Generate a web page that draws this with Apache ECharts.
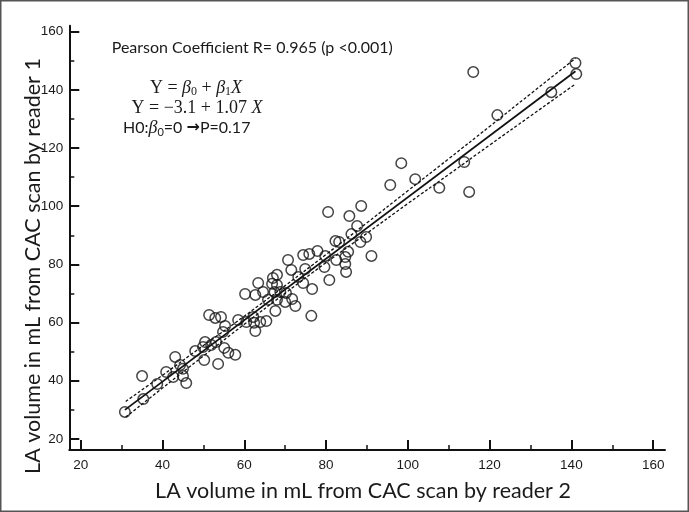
<!DOCTYPE html>
<html>
<head>
<meta charset="utf-8">
<script src="https://cdn.jsdelivr.net/npm/echarts@6/dist/echarts.min.js"></script>
<style>html,body{margin:0;padding:0;background:#fff}#c{width:689px;height:512px}</style>
</head>
<body>
<div id="c"></div>
<script>
// ---- data ----
const xMajorTicks = [20, 40, 60, 80, 100, 120, 140, 160];
const xMinorTicks = [30, 50, 70, 90, 110, 130, 150];
const yMajorTicks = [20, 40, 60, 80, 100, 120, 140, 160];
const yMinorTicks = [30, 50, 70, 90, 110, 130, 150];

const reader2 = [30.8, 35.3, 35.0, 38.7, 40.9, 42.6, 43.1, 44.3, 45.0, 45.0, 45.8, 48.0, 49.9, 50.2, 51.9, 53.1, 53.6, 55.1, 56.1, 57.8,
  51.4, 52.9, 54.3, 55.3, 54.8, 58.5, 60.5, 62.2, 62.4, 63.9, 65.4, 62.7, 60.2, 62.7, 63.4, 64.6, 65.8, 66.8, 68.0, 67.0, 68.0, 68.8, 68.0, 70.2, 70.0, 71.7, 72.5, 67.6, 76.4,
  70.7, 71.5, 73.2, 74.4, 76.6, 74.9, 74.4, 75.9, 77.9, 79.8, 79.6, 80.8, 82.3, 83.2, 82.5, 84.7, 85.4, 84.7, 84.9, 86.2, 88.4, 89.8, 87.6, 91.1,
  80.5, 85.7, 88.6, 95.7, 98.4, 101.8, 107.7, 113.8, 115.0, 116.0, 121.9, 135.1, 141.0, 141.2, 67.4, 50.4];
const reader1 = [29.3, 33.7, 41.6, 38.9, 43.0, 41.3, 48.2, 45.4, 44.1, 41.6, 39.2, 50.2, 51.6, 47.1, 52.3, 53.3, 45.8, 51.3, 49.6, 48.9,
  62.6, 61.6, 61.9, 58.8, 56.8, 60.9, 60.2, 61.9, 59.9, 60.2, 60.5, 57.1, 69.8, 69.5, 73.6, 70.5, 67.8, 73.3, 76.4, 75.3, 72.9, 70.5, 67.8, 70.2, 67.1, 68.1, 65.7, 64.0, 62.3,
  81.5, 78.1, 75.7, 73.6, 71.5, 78.4, 83.2, 83.6, 84.6, 82.9, 79.1, 74.6, 88.0, 87.7, 81.5, 82.5, 84.3, 80.1, 77.4, 90.4, 87.7, 89.4, 93.2, 82.9,
  98.0, 96.6, 100.1, 107.3, 114.8, 109.3, 106.3, 115.2, 104.9, 146.1, 131.3, 139.2, 149.2, 145.4, 70.5, 53.3];

const fitX = [30.8, 141.0];
const fitY = [30.0, 146.4];
const bandX = [31, 40, 50, 60, 70, 80, 90, 100, 110, 120, 130, 141];
const bandUpper = [32.9, 41.9, 52.1, 62.2, 72.7, 83.4, 94.3, 105.3, 116.3, 127.4, 138.6, 150.8];
const bandLower = [27.5, 37.5, 48.5, 59.4, 70.1, 80.6, 90.7, 100.9, 110.9, 121.0, 131.0, 142.0];

const xTitle = 'LA volume in mL from CAC scan by reader 2';
const yTitle = 'LA volume in mL from CAC scan by reader 1';

// ---- chart ----
const zip = (a, b) => a.map((v, i) => [v, b[i]]);
const X_MIN = 17.2, X_MAX = 162.9, Y_MIN = 16.2, Y_MAX = 162;
const AX = '#111';
const tickFont = { fontFamily: 'Liberation Sans, Arial, sans-serif', fontSize: 13.5, color: '#1a1a1a' };

function axisPair(isX) {
  const major = isX ? xMajorTicks : yMajorTicks;
  const minor = isX ? xMinorTicks : yMinorTicks;
  const base = { type: 'value', min: isX ? X_MIN : Y_MIN, max: isX ? X_MAX : Y_MAX, splitLine: { show: false } };
  return [
    Object.assign({}, base, {
      position: isX ? 'bottom' : 'left',
      axisLine: { show: true, lineStyle: { color: AX, width: 2 } },
      axisTick: { show: true, inside: true, length: 10, customValues: major, lineStyle: { color: AX, width: 2 } },
      axisLabel: Object.assign({ show: true, customValues: major, margin: isX ? 8 : 6 }, tickFont)
    }),
    Object.assign({}, base, {
      position: isX ? 'bottom' : 'left',
      axisLine: { show: false },
      axisTick: { show: true, inside: true, length: 5, customValues: minor, lineStyle: { color: AX, width: 1.5 } },
      axisLabel: { show: false }
    })
  ];
}

const chart = echarts.init(document.getElementById('c'), null, { renderer: 'canvas' });
const lato = 'Lato, "Open Sans", sans-serif';
const serif = '"Liberation Serif", "DejaVu Serif", serif';

chart.setOption({
  animation: false,
  backgroundColor: '#fff',
  grid: { left: 69.3, right: 24, top: 25.8, bottom: 62, containLabel: false },
  xAxis: axisPair(true),
  yAxis: axisPair(false),
  series: [
    { type: 'line', data: zip(fitX, fitY), symbol: 'none', lineStyle: { color: '#111', width: 1.8 }, z: 3 },
    { type: 'line', data: zip(bandX, bandUpper), symbol: 'none', smooth: true, lineStyle: { color: '#111', width: 1.3, type: [3, 2] }, z: 3 },
    { type: 'line', data: zip(bandX, bandLower), symbol: 'none', smooth: true, lineStyle: { color: '#111', width: 1.3, type: [3, 2] }, z: 3 },
    { type: 'scatter', data: zip(reader2, reader1), symbol: 'circle', symbolSize: 10.5,
      itemStyle: { color: 'rgba(0,0,0,0)', borderColor: '#151515', borderWidth: 1.5 }, z: 4 }
  ],
  graphic: [
    { type: 'rect', shape: { x: 0.75, y: 0.75, width: 687.5, height: 510.5 }, style: { fill: 'none', stroke: '#555', lineWidth: 1.5 }, silent: true },
    { type: 'text', x: 111.7, y: 48, style: { text: 'Pearson Coefficient R= 0.965 (p <0.001)', font: '16px ' + lato, fill: '#1a1a1a', textAlign: 'left', textVerticalAlign: 'middle' } },
    { type: 'text', x: 196, y: 88, style: {
        text: '{r|Y = }{i|β}{s|0}{r| + }{i|β}{s|1}{i|X}', textAlign: 'center', textVerticalAlign: 'middle',
        rich: {
          r: { fontFamily: serif, fontSize: 18, fill: '#1a1a1a', lineHeight: 20 },
          i: { fontFamily: serif, fontSize: 18, fontStyle: 'italic', fill: '#1a1a1a', lineHeight: 20 },
          s: { fontFamily: serif, fontSize: 12, fill: '#1a1a1a', lineHeight: 20, verticalAlign: 'bottom' }
        } } },
    { type: 'text', x: 197, y: 108, style: {
        text: '{r|Y = −3.1 + 1.07 }{i|X}', textAlign: 'center', textVerticalAlign: 'middle',
        rich: {
          r: { fontFamily: serif, fontSize: 18, fill: '#1a1a1a', lineHeight: 20 },
          i: { fontFamily: serif, fontSize: 18, fontStyle: 'italic', fill: '#1a1a1a', lineHeight: 20 }
        } } },
    { type: 'text', x: 123, y: 128, style: {
        text: '{c|H0:}{i|β}{s|0}{c|=0 }{a|→}{c|P=0.17}', textAlign: 'left', textVerticalAlign: 'middle',
        rich: {
          c: { fontFamily: lato, fontSize: 16, fill: '#1a1a1a', lineHeight: 20 },
          i: { fontFamily: serif, fontSize: 18, fontStyle: 'italic', fill: '#1a1a1a', lineHeight: 20 },
          s: { fontFamily: lato, fontSize: 11, fill: '#1a1a1a', lineHeight: 20, verticalAlign: 'bottom' },
          a: { fontFamily: '"DejaVu Sans", sans-serif', fontSize: 16, fontWeight: 'bold', fill: '#1a1a1a', lineHeight: 20 }
        } } },
    { type: 'text', x: 363, y: 491, style: { text: xTitle, font: '21.5px ' + lato, fill: '#1a1a1a', textAlign: 'center', textVerticalAlign: 'middle' } },
    { type: 'text', x: 33, y: 266, rotation: Math.PI / 2, style: { text: yTitle, font: '21.5px ' + lato, fill: '#1a1a1a', textAlign: 'center', textVerticalAlign: 'middle' } }
  ]
});
</script>
</body>
</html>
